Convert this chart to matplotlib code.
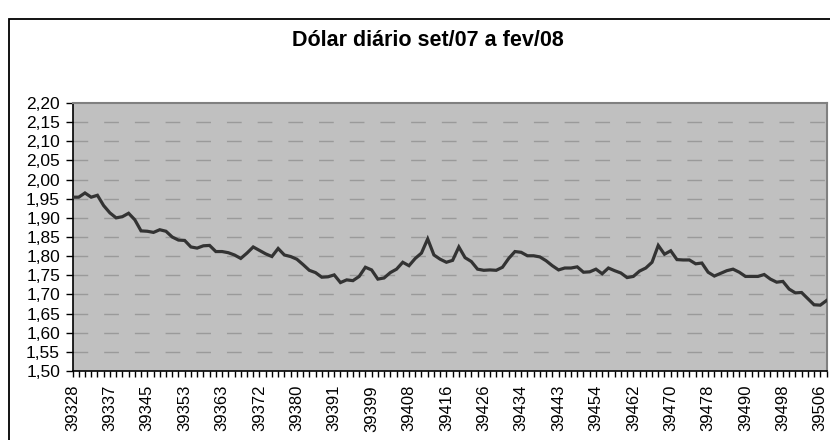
import numpy as np
import matplotlib
matplotlib.use("Agg")
import matplotlib.pyplot as plt
from matplotlib.patches import Rectangle

plt.rcParams["font.family"] = ["Liberation Sans", "DejaVu Sans"]
plt.rcParams["lines.scale_dashes"] = False

# cotação diária (R$/US$), dias úteis de 39328 a 39506 (datas seriais do Excel)
valores = [
    1.954, 1.954, 1.965, 1.954, 1.959, 1.932, 1.913, 1.900, 1.903, 1.912,
    1.895, 1.866, 1.865, 1.862, 1.869, 1.865, 1.850, 1.842, 1.841, 1.824,
    1.821, 1.827, 1.828, 1.812, 1.812, 1.809, 1.803, 1.794, 1.808, 1.824,
    1.815, 1.806, 1.799, 1.820, 1.803, 1.799, 1.792, 1.778, 1.763, 1.757,
    1.745, 1.746, 1.751, 1.731, 1.738, 1.736, 1.747, 1.771, 1.764, 1.740,
    1.743, 1.757, 1.766, 1.784, 1.775, 1.794, 1.808, 1.845, 1.803, 1.792,
    1.784, 1.789, 1.824, 1.796, 1.786, 1.766, 1.763, 1.764, 1.763, 1.771,
    1.794, 1.812, 1.810, 1.801, 1.801, 1.798, 1.788, 1.775, 1.764, 1.769,
    1.769, 1.772, 1.758, 1.759, 1.766, 1.754, 1.769, 1.762, 1.756, 1.744,
    1.747, 1.761, 1.769, 1.784, 1.828, 1.805, 1.814, 1.791, 1.790, 1.790,
    1.780, 1.782, 1.758, 1.748, 1.755, 1.762, 1.766, 1.758, 1.747, 1.747,
    1.747, 1.752, 1.740, 1.732, 1.734, 1.714, 1.704, 1.705, 1.689, 1.673,
    1.672, 1.684,
]

# rótulos mostrados no eixo x (um a cada 6 dias)
rotulos_x = ["39328", "39337", "39345", "39353", "39363", "39372", "39380",
             "39391", "39399", "39408", "39416", "39426", "39434", "39443",
             "39454", "39462", "39470", "39478", "39490", "39498", "39506"]
passo = 6

y_ticks = [1.50 + 0.05 * k for k in range(15)]

fig = plt.figure(figsize=(8.3, 4.4), dpi=100)
ax = fig.add_axes([72.5 / 830, 1 - 371 / 440, (826.5 - 72.5) / 830, (371 - 103) / 440])

x = np.arange(len(valores))
ax.set_facecolor("#C0C0C0")
for yv in y_ticks[1:-1]:
    ax.axhline(yv, color="#9a9a9a", lw=1.0, ls=(0, (10.6, 11.5)), zorder=1)
ax.plot(x, valores, color="#333333", lw=2.3, zorder=3, solid_joinstyle="miter")

ax.set_xlim(0, len(valores) - 1)
ax.set_ylim(1.50, 2.20)
ax.set_yticks(y_ticks)
ax.set_yticklabels([f"{v:.2f}".replace(".", ",") for v in y_ticks], fontsize=12.5)
ax.set_xticks(x[::passo])
ax.set_xticklabels(rotulos_x, rotation=90, fontsize=12)
ax.set_xticks(x, minor=True)
ax.tick_params(axis="x", which="both", direction="out", length=4, width=1, pad=6)
ax.tick_params(axis="y", direction="out", length=5, width=1, pad=4)

for lado in ["top", "right"]:
    ax.spines[lado].set_color("#808080")
    ax.spines[lado].set_linewidth(1.5)
for lado in ["left", "bottom"]:
    ax.spines[lado].set_color("black")
    ax.spines[lado].set_linewidth(1.2)

fig.text(0.515, 1 - 41 / 440, "Dólar diário set/07 a fev/08", ha="center", va="center",
         fontsize=15.5, fontweight="bold")

# moldura do gráfico (cortada à direita e embaixo)
fig.patches.append(Rectangle((8.5 / 830, -0.1), 1.0, 1.1 - 19.5 / 440,
                             transform=fig.transFigure, fill=False,
                             edgecolor="black", lw=1.3, clip_on=False))

fig.savefig("out.png", dpi=100)
